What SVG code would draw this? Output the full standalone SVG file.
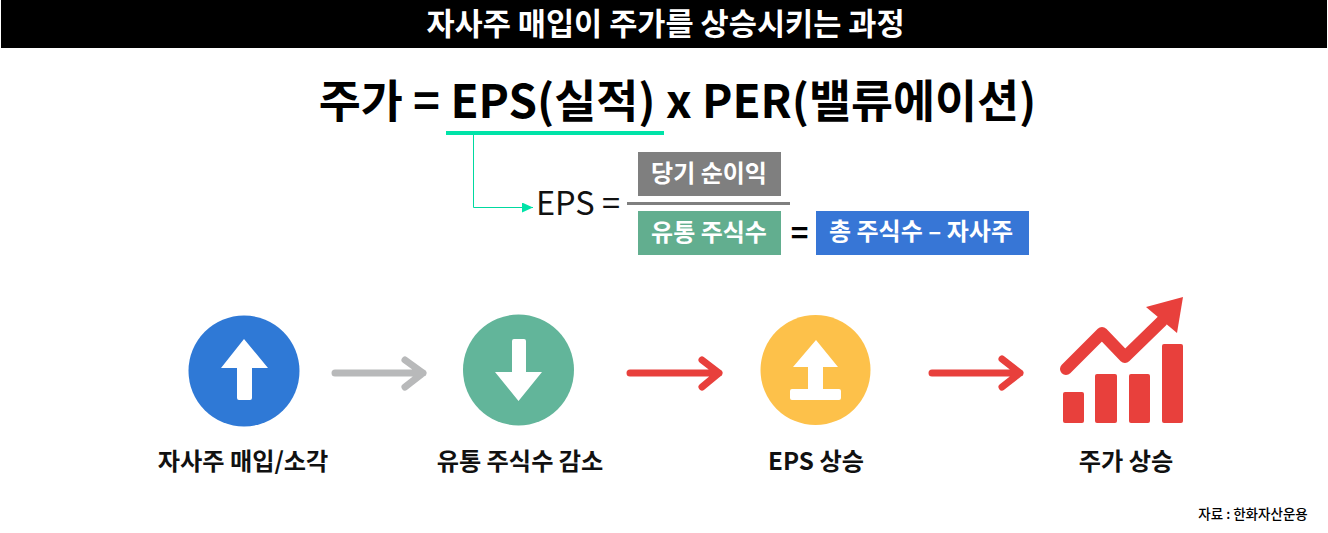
<svg xmlns="http://www.w3.org/2000/svg" width="1328" height="533" viewBox="0 0 1328 533">
<style>
text{font-family:"Noto Sans CJK KR","Noto Sans",sans-serif;font-weight:700;text-anchor:middle;fill:#000}
.w{fill:#fff;font-size:24px}
.l{font-size:24.200px;fill:#111}
.ic{fill:#fff}
.arr{fill:none;stroke-width:7;stroke-linecap:round;stroke-linejoin:round}
.red{fill:#e8403c}
</style>
<defs><marker id="m" markerWidth="11" markerHeight="10" refX="11" refY="5" orient="auto" markerUnits="userSpaceOnUse"><path d="M0 0L11 5L0 10Z" fill="#00e3a8"/></marker></defs>
<rect width="1328" height="533" fill="#fff"/>
<g id="title"><rect x="1" y="0" width="1326" height="48" fill="#000"/><text x="665.500" y="35" font-size="30.600" style="fill:#fff">자사주 매입이 주가를 상승시키는 과정</text></g>
<g id="formula"><text x="677.500" y="118" font-size="45.700">주가 = EPS(실적) x PER(밸류에이션)</text><rect x="446" y="131" width="218" height="4" fill="#00e3a8"/></g>
<g id="connectors">
<path d="M473.500 135V207.500H533" fill="none" stroke="#00d9a0" stroke-width="1" marker-end="url(#m)"/>
<path class="arr" stroke="#b8b9ba" d="M335 373H423M405 360L423 373L405 387"/>
<path class="arr" stroke="#e8403c" d="M630 373H719M702 360L719 373L702 387"/>
<path class="arr" stroke="#e8403c" d="M932 373H1020M1002 359L1020 373L1002 387"/>
</g>
<g id="eps"><text x="578" y="215" font-size="32.500" style="font-weight:400;fill:#111">EPS =</text><rect x="627" y="202" width="163" height="3" fill="#7f7f7f"/></g>
<g id="net-income"><rect x="638" y="152" width="143" height="44" fill="#7f7f7f"/><text class="w" x="709" y="182">당기 순이익</text></g>
<g id="float-shares"><rect x="638" y="211" width="143" height="44" fill="#62ae8f"/><text class="w" x="709" y="241">유통 주식수</text></g>
<g id="equals"><text x="799.500" y="244" font-size="30">=</text></g>
<g id="total-shares"><rect x="816" y="211" width="213" height="44" fill="#3776d6"/><text class="w" x="921" y="240">총 주식수 – 자사주</text></g>
<g id="step1"><circle cx="244" cy="371" r="55.500" fill="#2f79d6"/><path class="ic" d="M244 339L268 368H252V398Q252 400 250 400H239Q237 400 237 398V368H221Z"/><text class="l" x="243" y="470">자사주 매입/소각</text></g>
<g id="step2"><circle cx="518.500" cy="370" r="55.500" fill="#62b59a"/><path class="ic" d="M514 339H524Q526 339 526 341V372H542L518.500 401L495 372H512V341Q512 339 514 339Z"/><text class="l" x="520" y="470">유통 주식수 감소</text></g>
<g id="step3"><circle cx="815.500" cy="370" r="55" fill="#fdc14a"/><path class="ic" d="M816 340L838 367H823V389H839Q841 389 841 391V398Q841 400 839 400H792Q790 400 790 398V391Q790 389 792 389H808V367H793Z"/><text class="l" x="816" y="470">EPS 상승</text></g>
<g id="step4">
<rect class="red" x="1063" y="392" width="21" height="31" rx="2"/><rect class="red" x="1095" y="374" width="22" height="49" rx="2"/><rect class="red" x="1129" y="374" width="21" height="49" rx="2"/><rect class="red" x="1162" y="344" width="21" height="79" rx="2"/>
<path d="M1066 369L1102 333L1125 357L1162 321" fill="none" stroke="#e8403c" stroke-width="12" stroke-linecap="round" stroke-linejoin="round"/>
<path class="red" d="M1146 307L1183 297L1177 333Z"/>
<text class="l" x="1126" y="470">주가 상승</text></g>
<g id="source"><text x="1253" y="519" font-size="13.500" style="font-weight:500">자료 : 한화자산운용</text></g>
</svg>
